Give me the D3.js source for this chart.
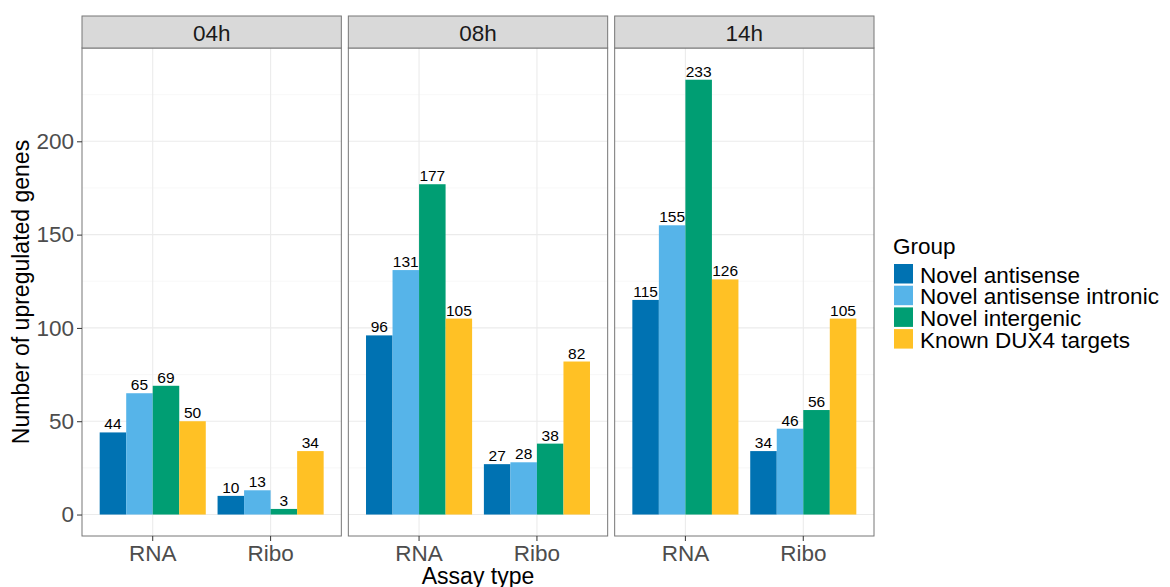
<!DOCTYPE html>
<html lang="en">
<head>
    <meta charset="UTF-8">
    <title>Upregulated genes by assay type</title>
    <script src="https://d3js.org/d3.v7.min.js"></script>
    <style>
        body {
            margin: 0;
            background: #fff;
        }
        svg text {
            font-family: "Liberation Sans", Arial, Helvetica, sans-serif;
        }
        .grid-major {
            stroke: #ebebeb;
            stroke-width: 1.1;
        }
        .grid-minor {
            stroke: #f4f4f4;
            stroke-width: 0.6;
        }
    </style>
</head>
<body>
    <div id="chart"></div>

    <script>
        // Data
        const timepoints = ["04h", "08h", "14h"];
        const assays = ["RNA", "Ribo"];
        const groups = ["Novel antisense", "Novel antisense intronic", "Novel intergenic", "Known DUX4 targets"];
        const groupColors = ["#0072B2", "#56B4E9", "#009E73", "#FFC125"];

        // values[timepoint][assay] -> one number per group
        const counts04h = { RNA: [44, 65, 69, 50], Ribo: [10, 13, 3, 34] };
        const counts08h = { RNA: [96, 131, 177, 105], Ribo: [27, 28, 38, 82] };
        const counts14h = { RNA: [115, 155, 233, 126], Ribo: [34, 46, 56, 105] };

        const yTicks = [0, 50, 100, 150, 200];
        const yMinorTicks = [25, 75, 125, 175, 225];
        const yDomain = [-11.5, 250];

        const countsByTime = { "04h": counts04h, "08h": counts08h, "14h": counts14h };

        const width = 1170, height = 587;
        const panelLeft = 82, panelRight = 874, panelGap = 7;
        const panelTop = 48, panelBottom = 536, stripTop = 16;
        const panelW = (panelRight - panelLeft - panelGap * (timepoints.length - 1)) / timepoints.length;

        const svg = d3.select("#chart").append("svg")
            .attr("width", width)
            .attr("height", height);

        const y = d3.scaleLinear().domain(yDomain).range([panelBottom, panelTop]);

        const x = d3.scaleBand().domain(assays).range([0, panelW])
            .paddingInner(0.1).paddingOuter(0.15);
        const xg = d3.scaleBand().domain(groups).range([0, x.bandwidth()]);

        timepoints.forEach((tp, i) => {
            const px = panelLeft + i * (panelW + panelGap);
            const g = svg.append("g").attr("transform", `translate(${px},0)`);

            // grid
            g.selectAll(".grid-minor").data(yMinorTicks).enter().append("line")
                .attr("class", "grid-minor")
                .attr("x1", 0).attr("x2", panelW)
                .attr("y1", d => y(d)).attr("y2", d => y(d));
            g.selectAll(".grid-major.h").data(yTicks).enter().append("line")
                .attr("class", "grid-major h")
                .attr("x1", 0).attr("x2", panelW)
                .attr("y1", d => y(d)).attr("y2", d => y(d));
            g.selectAll(".grid-major.v").data(assays).enter().append("line")
                .attr("class", "grid-major v")
                .attr("x1", d => x(d) + x.bandwidth() / 2).attr("x2", d => x(d) + x.bandwidth() / 2)
                .attr("y1", panelTop).attr("y2", panelBottom);

            // bars
            const rows = [];
            assays.forEach(a => {
                countsByTime[tp][a].forEach((v, k) => rows.push({ assay: a, group: groups[k], value: v, color: groupColors[k] }));
            });

            g.selectAll("rect.bar").data(rows).enter().append("rect")
                .attr("class", "bar")
                .attr("x", d => x(d.assay) + xg(d.group))
                .attr("width", xg.bandwidth())
                .attr("y", d => y(d.value))
                .attr("height", d => y(0) - y(d.value))
                .attr("fill", d => d.color);

            g.selectAll("text.lbl").data(rows).enter().append("text")
                .attr("class", "lbl")
                .attr("x", d => x(d.assay) + xg(d.group) + xg.bandwidth() / 2)
                .attr("y", d => y(d.value) - 3)
                .attr("text-anchor", "middle")
                .attr("font-size", 15.5)
                .attr("fill", "#000")
                .text(d => d.value);

            // panel border
            g.append("rect")
                .attr("x", 0).attr("y", panelTop)
                .attr("width", panelW).attr("height", panelBottom - panelTop)
                .attr("fill", "none").attr("stroke", "#777").attr("stroke-width", 1);

            // strip
            g.append("rect")
                .attr("x", 0).attr("y", stripTop)
                .attr("width", panelW).attr("height", panelTop - stripTop)
                .attr("fill", "#d9d9d9").attr("stroke", "#777").attr("stroke-width", 1);
            g.append("text")
                .attr("x", panelW / 2).attr("y", 41)
                .attr("text-anchor", "middle")
                .attr("font-size", 22.5)
                .attr("fill", "#1a1a1a")
                .text(tp);

            // x axis
            const xAxis = g.append("g")
                .attr("transform", `translate(0,${panelBottom})`)
                .call(d3.axisBottom(x).tickSize(5).tickPadding(4));
            xAxis.select(".domain").remove();
            xAxis.selectAll("line").attr("stroke", "#333");
            xAxis.selectAll("text")
                .attr("font-size", 22.5)
                .attr("fill", "#4d4d4d")
                .attr("dy", "0.71em")
                .attr("font-family", "Liberation Sans, Arial, sans-serif");
        });

        // y axis on first panel
        const yAxis = svg.append("g")
            .attr("transform", `translate(${panelLeft},0)`)
            .call(d3.axisLeft(y).tickValues(yTicks).tickSize(5).tickPadding(3));
        yAxis.select(".domain").remove();
        yAxis.selectAll("line").attr("stroke", "#333");
        yAxis.selectAll("text")
            .attr("font-size", 22.5)
            .attr("fill", "#4d4d4d")
            .attr("font-family", "Liberation Sans, Arial, sans-serif");

        // axis titles
        svg.append("text")
            .attr("x", (panelLeft + panelRight) / 2).attr("y", 584)
            .attr("text-anchor", "middle")
            .attr("font-size", 23)
            .attr("fill", "#000")
            .text("Assay type");

        svg.append("text")
            .attr("transform", `translate(29,${(panelTop + panelBottom) / 2}) rotate(-90)`)
            .attr("text-anchor", "middle")
            .attr("font-size", 23)
            .attr("fill", "#000")
            .text("Number of upregulated genes");

        // legend
        const legend = svg.append("g").attr("transform", "translate(893,0)");
        legend.append("text")
            .attr("x", 0).attr("y", 254)
            .attr("font-size", 22.5)
            .attr("fill", "#000")
            .text("Group");

        const keys = legend.selectAll("g.key").data(groups).enter().append("g")
            .attr("class", "key")
            .attr("transform", (d, i) => `translate(0,${263 + i * 21.7})`);
        keys.append("rect")
            .attr("x", 1).attr("y", 1)
            .attr("width", 19).attr("height", 19.5)
            .attr("fill", (d, i) => groupColors[i]);
        keys.append("text")
            .attr("x", 27).attr("y", 19.5)
            .attr("font-size", 22.5)
            .attr("fill", "#000")
            .text(d => d);
    </script>
</body>
</html>
